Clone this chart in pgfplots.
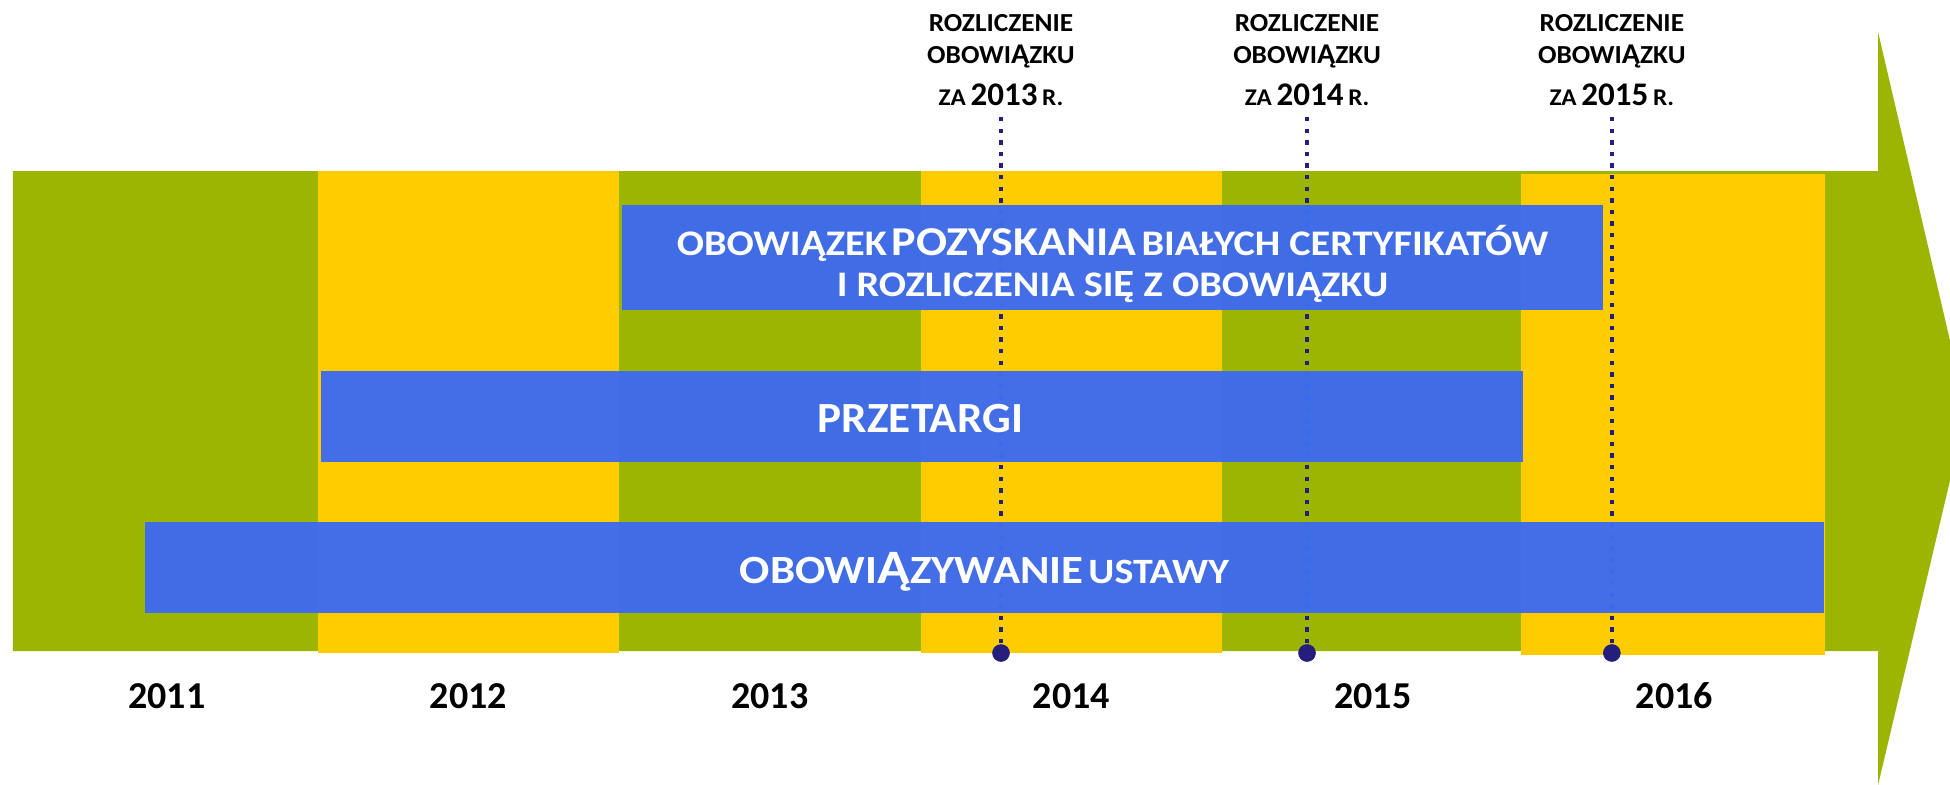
\documentclass[border=0pt]{standalone}
\usepackage{fontspec}
\setmainfont{Carlito}[FakeStretch=1.05]
\newfontfamily\numfont{Carlito}
\newfontfamily\barfont{Carlito}[FakeStretch=1.12]
\usepackage{graphicx}
\usepackage{pgfplots}
\pgfplotsset{compat=1.18}
\definecolor{arrowgreen}{HTML}{9BB500}
\definecolor{bandyellow}{HTML}{FFCC00}
\definecolor{barblue}{HTML}{3D6BF0}
\definecolor{dotnavy}{HTML}{241F7D}
\newcommand\fs[1]{\fontsize{#1bp}{#1bp}\selectfont}
\begin{document}
\begin{tikzpicture}
\begin{axis}[
  scale only axis, width=975bp, height=392.5bp,
  xmin=2010.4469, xmax=2016.9146, ymin=0, ymax=785,
  y dir=reverse, hide axis,
]
% green arrow (timeline body)
\addplot[fill=arrowgreen, draw=none] coordinates {
  (2010.49,171) (2016.676,171) (2016.676,32) (2016.969,411)
  (2016.676,785) (2016.676,651) (2010.49,651)} -- cycle;
% yellow year bands
\addplot[fill=bandyellow, draw=none] coordinates {(2011.5,171) (2012.5,171) (2012.5,653) (2011.5,653)} -- cycle;
\addplot[fill=bandyellow, draw=none] coordinates {(2013.5,171) (2014.5,171) (2014.5,653) (2013.5,653)} -- cycle;
\addplot[fill=bandyellow, draw=none] coordinates {(2015.492,174) (2016.5,174) (2016.5,655) (2015.492,655)} -- cycle;
% dotted settlement lines
\addplot[dotnavy, line width=2.2bp, dash pattern=on 2.2bp off 3.6bp] coordinates {(2013.767,117) (2013.767,653)};
\addplot[dotnavy, line width=2.2bp, dash pattern=on 2.2bp off 3.6bp] coordinates {(2014.782,117) (2014.782,653)};
\addplot[dotnavy, line width=2.2bp, dash pattern=on 2.2bp off 3.6bp] coordinates {(2015.793,117) (2015.793,653)};
% blue bars
\addplot[fill=barblue, fill opacity=0.96, draw=none] coordinates {(2012.51,205) (2015.764,205) (2015.764,310) (2012.51,310)} -- cycle;
\addplot[fill=barblue, fill opacity=0.96, draw=none] coordinates {(2011.512,371) (2015.497,371) (2015.497,462) (2011.512,462)} -- cycle;
\addplot[fill=barblue, fill opacity=0.96, draw=none] coordinates {(2010.928,522) (2016.497,522) (2016.497,613) (2010.928,613)} -- cycle;
% settlement dots
\addplot[only marks, mark=*, mark size=4.2bp, dotnavy] coordinates {(2013.767,653) (2014.782,653) (2015.793,653)};
% bar texts
\node[anchor=base, text=white, font=\barfont\bfseries, inner sep=0pt, text depth=0bp] at (axis cs:2014.137,255)
  {{\fs{18}OBOWI\scalebox{1.03}{Ą}ZEK} {\fs{20.5}POZYSKANIA} {\fs{18}BIAŁYCH CERTYFIKATÓW}};
\node[anchor=base, text=white, font=\barfont\bfseries, inner sep=0pt, text height=12bp] at (axis cs:2014.137,296)
  {\fs{18}I ROZLICZENIA SI\scalebox{1.07}{Ę} Z OBOWI\scalebox{1.03}{Ą}ZKU};
\node[anchor=base, text=white, font=\bfseries] at (axis cs:2013.5,432)
  {\fs{21.5}PRZETARGI};
\node[anchor=base, text=white, font=\barfont\bfseries] at (axis cs:2013.712,583)
  {{\fs{20}OBOWI\scalebox{1.2}{Ą}ZYWANIE} {\fs{17.8}USTAWY}};
% top labels
\foreach \xx/\yy in {2013.767/2013, 2014.782/2014, 2015.793/2015}{
  \edef\tmp{\noexpand\node[anchor=base, font=\noexpand\bfseries\noexpand\fs{13}] at (axis cs:\xx,32) {ROZLICZENIE};}\tmp
  \edef\tmp{\noexpand\node[anchor=base, font=\noexpand\bfseries\noexpand\fs{13}] at (axis cs:\xx,63) {OBOWI\noexpand\scalebox{1.1}{Ą}ZKU};}\tmp
  \edef\tmp{\noexpand\node[anchor=base, font=\noexpand\bfseries] at (axis cs:\xx,105) {{\noexpand\fs{12}ZA} {\noexpand\numfont\noexpand\fs{16.5}\yy} {\noexpand\fs{12}R.}};}\tmp
}
% year labels
\foreach \yr in {2011,...,2016}{
  \edef\tmp{\noexpand\node[anchor=base, font=\noexpand\numfont\noexpand\bfseries\noexpand\fs{19}] at (axis cs:\yr,708) {\yr};}\tmp
}
\coordinate (bb1) at (axis cs:2010.4469,0);
\coordinate (bb2) at (axis cs:2016.9146,785);
\end{axis}
\pgfresetboundingbox
\useasboundingbox (bb1) rectangle (bb2);
\end{tikzpicture}
\end{document}
